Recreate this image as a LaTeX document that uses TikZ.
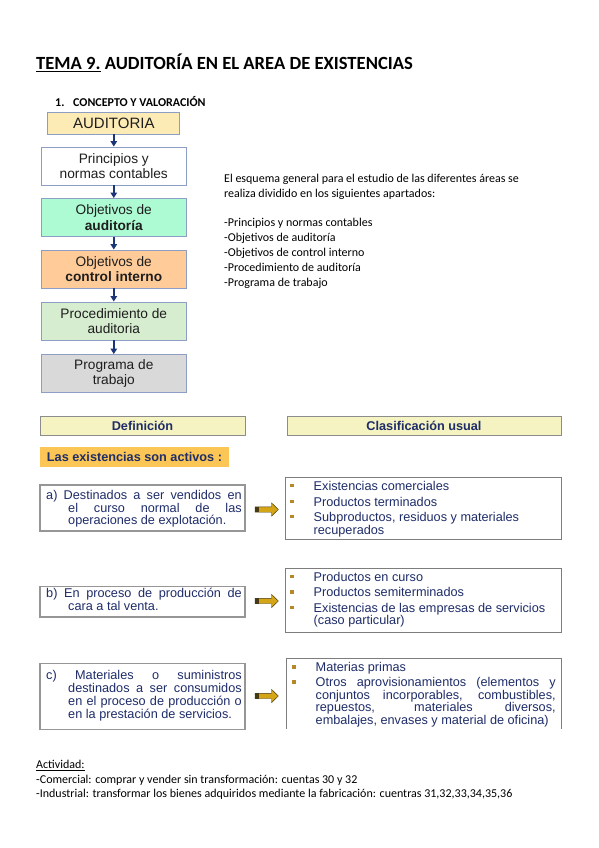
\documentclass[tikz,border=0pt]{standalone}
\usepackage{fontspec}
\setmainfont{Carlito}
\newfontfamily\arialf{Liberation Sans}
\usetikzlibrary{arrows.meta}
\definecolor{cNavy}{RGB}{31,45,105}
\definecolor{cFlowText}{RGB}{30,30,30}
\definecolor{cFlowBorder}{RGB}{140,158,195}
\definecolor{cArrowBlue}{RGB}{28,52,120}
\definecolor{cAud}{RGB}{253,235,182}
\definecolor{cObjA}{RGB}{172,251,211}
\definecolor{cObjC}{RGB}{255,203,152}
\definecolor{cProc}{RGB}{214,237,207}
\definecolor{cProg}{RGB}{217,217,217}
\definecolor{cHead}{RGB}{244,243,193}
\definecolor{cHeadBorder}{RGB}{140,140,140}
\definecolor{cActivos}{RGB}{251,198,85}
\definecolor{cBoxBorder}{RGB}{150,150,150}
\definecolor{cClassBorder}{RGB}{125,125,125}
\definecolor{cBullet}{RGB}{181,137,43}
\definecolor{cGold}{RGB}{212,165,22}
\definecolor{cGoldDark}{RGB}{70,58,20}
\newcommand\goldarrow[1]{%
  \filldraw[fill=cGold, draw=cGoldDark, line width=0.4pt] #1 ++(0,-2.7) -- ++(16.5,0) -- ++(0,-4) -- ++(6.8,6.7) -- ++(-6.8,6.7) -- ++(0,-4) -- ++(-16.5,0) -- cycle;
  \fill[cGoldDark] #1 ++(0,-2.7) rectangle ++(4,5.4);}
\begin{document}
\begin{tikzpicture}[x=1pt,y=-1pt,
  flowbox/.style={draw=cFlowBorder, line width=0.9pt, minimum width=145.5pt, minimum height=38pt, inner sep=0pt, align=center, text=cFlowText, font=\arialf\fontsize{13.7}{15.5}\selectfont},
  flowarrow/.style={draw=cArrowBlue, line width=1.9pt, -{Triangle[length=5.5pt,width=6.5pt]}},
  headbox/.style={draw=cHeadBorder, fill=cHead, line width=0.9pt, minimum height=18.5pt, inner sep=0pt, text=cNavy, font=\arialf\bfseries\fontsize{12.7}{13}\selectfont},
  defbox/.style={draw=cBoxBorder, line width=1.4pt, minimum width=205pt, inner sep=0pt},
  classbox/.style={draw=cClassBorder, line width=0.9pt, inner sep=0pt},
  btxt/.style={anchor=base west, inner sep=0pt, text=cNavy, font=\arialf\fontsize{12.7}{13}\selectfont},
  ptxt/.style={anchor=base west, inner sep=0pt, font=\fontsize{12}{14}\selectfont},
  bullet/.style={rectangle, fill=cBullet, minimum size=3.6pt, inner sep=0pt}]
\useasboundingbox (0,0) rectangle (599,848);
\fill[white] (0,0) rectangle (599,848);

% title
\node[anchor=base west, inner sep=0pt, font=\fontsize{18.6}{22}\selectfont\bfseries] (title) at (36,70) {\underline{TEMA 9.} AUDITORÍA EN EL AREA DE EXISTENCIAS};
\node[anchor=base west, inner sep=0pt, font=\fontsize{12}{14}\selectfont\bfseries] (sec) at (55,106.7) {\makebox[18pt][l]{1.}CONCEPTO Y VALORACIÓN};

% flowchart
\node[flowbox, fill=cAud, minimum width=132pt, minimum height=21.3pt, font=\arialf\fontsize{15}{17}\selectfont] (aud) at (113.8,123.3) {AUDITORIA};
\node[flowbox, fill=white] (pri) at (113.8,166) {Principios y\\normas contables};
\node[flowbox, fill=cObjA] (oba) at (113.8,217.5) {Objetivos de\\\textbf{auditoría}};
\node[flowbox, fill=cObjC] (obc) at (113.8,269) {Objetivos de\\\textbf{control interno}};
\node[flowbox, fill=cProc] (pro) at (113.8,321) {Procedimiento de\\auditoria};
\node[flowbox, fill=cProg] (prg) at (113.8,373.5) {Programa de\\trabajo};
\draw[flowarrow] (aud.south) -- (pri.north);
\draw[flowarrow] (pri.south) -- (oba.north);
\draw[flowarrow] (oba.south) -- (obc.north);
\draw[flowarrow] (obc.south) -- (pro.north);
\draw[flowarrow] (pro.south) -- (prg.north);

% right text
\node[ptxt] (r1) at (224,182.8) {El esquema general para el estudio de las diferentes áreas se};
\node[ptxt] (r2) at (224,197.8) {realiza dividido en los siguientes apartados:};
\node[ptxt] (r3) at (224,226) {-Principios y normas contables};
\node[ptxt] (r4) at (224,241.2) {-Objetivos de auditoría};
\node[ptxt] (r5) at (224,256.4) {-Objetivos de control interno};
\node[ptxt] (r6) at (224,271.6) {-Procedimiento de auditoría};
\node[ptxt] (r7) at (224,286.8) {-Programa de trabajo};

% headers
\node[headbox, minimum width=205pt] (def) at (142.5,425.75) {Definición};
\node[headbox, minimum width=274pt] (cla) at (424,425.75) {Clasificación usual};
\node[fill=cActivos, minimum width=189pt, minimum height=19.5pt, inner sep=0pt, text=cNavy, font=\arialf\bfseries\fontsize{12.7}{13}\selectfont] (act) at (134.5,456.75) {Las existencias son activos :};

% definition boxes
\node[defbox, minimum height=46pt] (ba) at (142.5,508) {};
\node[defbox, minimum height=30.5pt] (bb) at (142.5,601.75) {};
\node[defbox, minimum height=66pt] (bc) at (142.5,696.5) {};
\node[btxt] (ta1) at (46,499) {\makebox[195.5pt][s]{a) Destinados a ser vendidos en}};
\node[btxt] (ta2) at (68,512) {\makebox[173.5pt][s]{el curso normal de las}};
\node[btxt] (ta3) at (68,524.5) {operaciones de explotación.};
\node[btxt] (tb1) at (46,597.5) {\makebox[195.5pt][s]{b) En proceso de producción de}};
\node[btxt] (tb2) at (68,610) {cara a tal venta.};
\node[btxt] (tc1) at (46,679) {\makebox[195.5pt][s]{c) Materiales o suministros}};
\node[btxt] (tc2) at (68,692) {\makebox[173.5pt][s]{destinados a ser consumidos}};
\node[btxt] (tc3) at (68,705) {\makebox[173.5pt][s]{en el proceso de producción o}};
\node[btxt] (tc4) at (68,718) {en la prestación de servicios.};

% classification boxes
\node[classbox, minimum width=276pt, minimum height=62pt] (ca) at (423,508.6) {};
\node[classbox, minimum width=276pt, minimum height=64.5pt] (cb) at (423,600.25) {};
\node[minimum width=274.5pt, minimum height=70pt, inner sep=0pt] (cc) at (423.75,693.3) {};
\draw[cClassBorder, line width=0.9pt] (cc.south west) -- (cc.north west) -- (cc.north east) -- (cc.south east);

\node[bullet] (ua1) at (292,485.4) {};
\node[btxt] (xa1) at (313.5,490) {Existencias comerciales};
\node[bullet] (ua2) at (292,501.4) {};
\node[btxt] (xa2) at (313.5,506) {Productos terminados};
\node[bullet] (ua3) at (292,516.4) {};
\node[btxt] (xa3) at (313.5,521) {Subproductos, residuos y materiales};
\node[btxt] (xa4) at (313.5,534) {recuperados};

\node[bullet] (ub1) at (292,576.4) {};
\node[btxt] (xb1) at (313.5,581) {Productos en curso};
\node[bullet] (ub2) at (292,591.9) {};
\node[btxt] (xb2) at (313.5,596.5) {Productos semiterminados};
\node[bullet] (ub3) at (292,607.4) {};
\node[btxt] (xb3) at (313.5,612) {Existencias de las empresas de servicios};
\node[btxt] (xb4) at (313.5,624) {(caso particular)};

\node[bullet] (uc1) at (294,666.9) {};
\node[btxt] (xc1) at (315.5,671.5) {Materias primas};
\node[bullet] (uc2) at (294,681.9) {};
\node[btxt] (xc2) at (315.5,686.5) {\makebox[240pt][s]{Otros aprovisionamientos (elementos y}};
\node[btxt] (xc3) at (315.5,699) {\makebox[240pt][s]{conjuntos incorporables, combustibles,}};
\node[btxt] (xc4) at (315.5,711.5) {\makebox[240pt][s]{repuestos, materiales diversos,}};
\node[btxt] (xc5) at (315.5,724) {embalajes, envases y material de oficina)};

% gold arrows
\coordinate (ga) at (255,509.5);
\coordinate (gb) at (255,601);
\coordinate (gc) at (255,696);
\goldarrow{(ga)}
\goldarrow{(gb)}
\goldarrow{(gc)}

% bottom text
\node[ptxt] (b1) at (36,768.5) {\underline{Actividad:}};
\node[ptxt] (b2) at (36,783) {-Comercial: comprar y vender sin transformación: cuentas 30 y 32};
\node[ptxt] (b3) at (36,797.5) {-Industrial: transformar los bienes adquiridos mediante la fabricación: cuentras 31,32,33,34,35,36};
\end{tikzpicture}
\end{document}
